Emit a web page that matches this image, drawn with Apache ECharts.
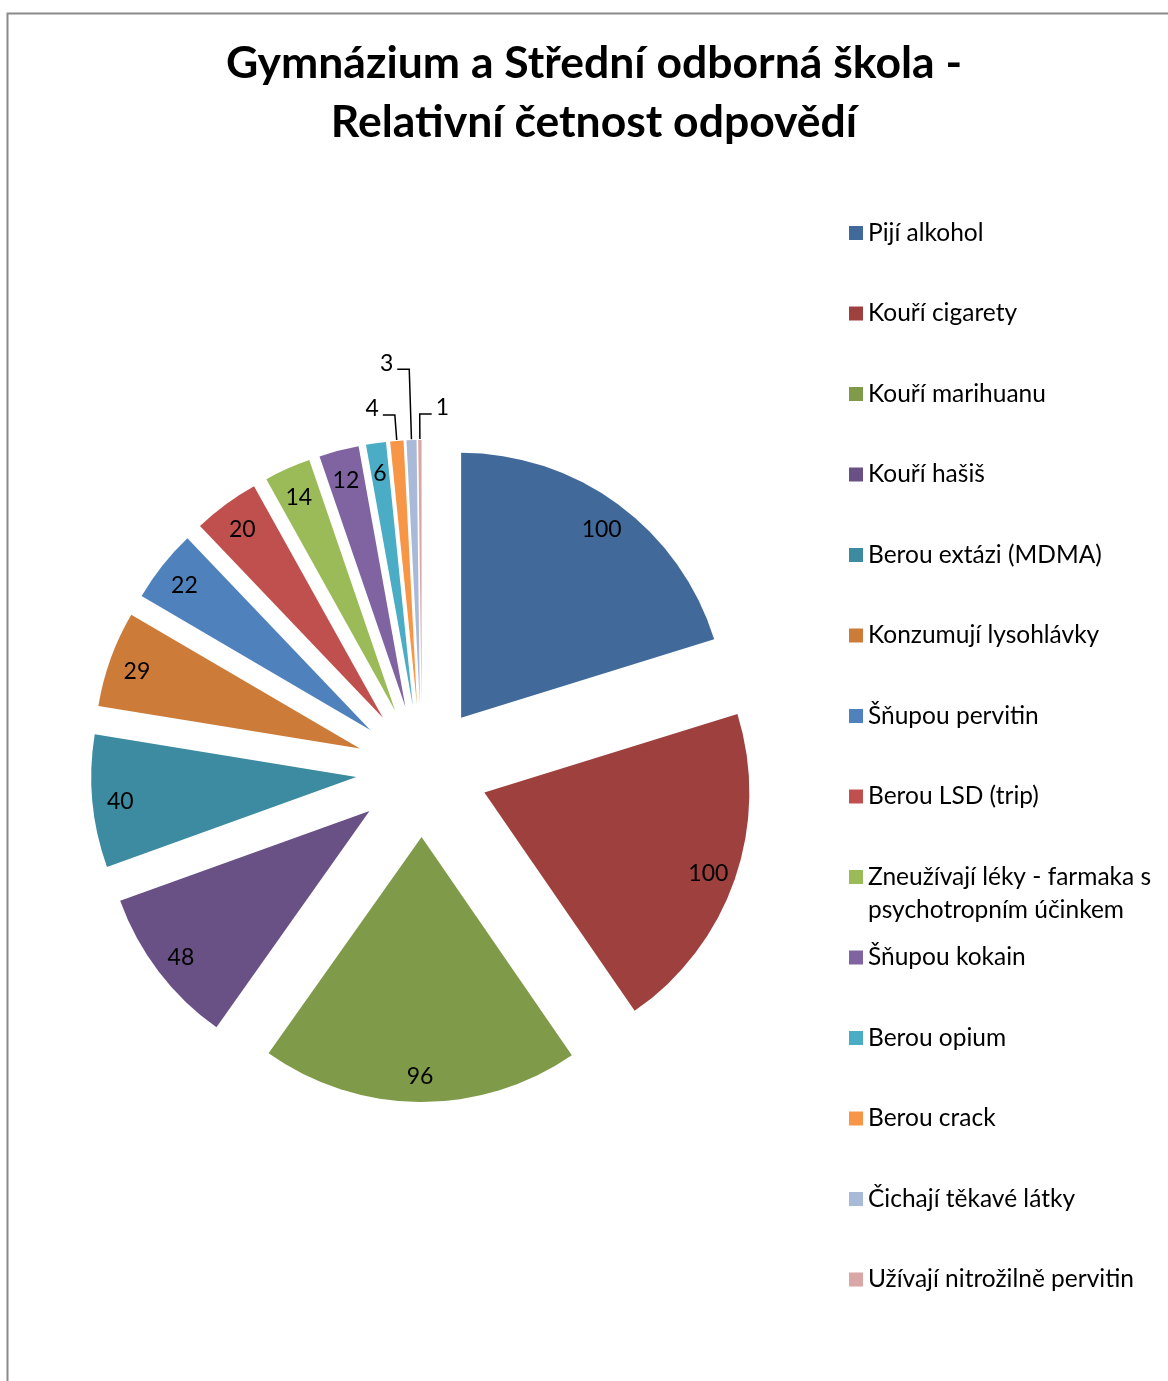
<!DOCTYPE html>
<html>
<head>
<meta charset="utf-8">
<script src="https://cdn.jsdelivr.net/npm/echarts@6/dist/echarts.min.js"></script>
<style>
  html, body { margin: 0; padding: 0; background: #ffffff; }
  #chart { width: 1168px; height: 1381px; }
</style>
</head>
<body>
<div id="chart"></div>
<script>
// Survey answers: how many respondents reported each behaviour
const categories = [
  'Pijí alkohol',
  'Kouří cigarety',
  'Kouří marihuanu',
  'Kouří hašiš',
  'Berou extázi (MDMA)',
  'Konzumují lysohlávky',
  'Šňupou pervitin',
  'Berou LSD (trip)',
  'Zneužívají léky - farmaka s psychotropním účinkem',
  'Šňupou kokain',
  'Berou opium',
  'Berou crack',
  'Čichají těkavé látky',
  'Užívají nitrožilně pervitin'
];
const counts = [100, 100, 96, 48, 40, 29, 22, 20, 14, 12, 6, 4, 3, 1];
const sliceColors = [
  '#416A9B', '#9E413E', '#7F9A48', '#695185', '#3C8BA1', '#CC7B38', '#4F81BD',
  '#C0504D', '#9BBB59', '#8064A2', '#4BACC6', '#F79646', '#A9B9D8', '#D9A7A6'
];
const titleLines = ['Gymnázium a Střední odborná škola -', 'Relativní četnost odpovědí'];

const FONT = 'Lato, "Noto Sans", sans-serif';
const CENTER = [422, 771];
const RADIUS = 265;
const EXPLODE = 66;          // every slice is pulled out by the same distance
const LABEL_DEPTH = 234;     // value labels sit this far out from a slice's tip
// Thin slices get their value outside on a leader line (first segment length)
const leaderLength = { 11: 25, 12: 70, 13: 25 };
const flipIndex = categories.length - 1;   // the last leader turns right

const chart = echarts.init(document.getElementById('chart'), null, { renderer: 'canvas' });

const sliceData = categories.map((name, i) => ({
  name,
  value: counts[i],
  selected: true,
  itemStyle: { color: sliceColors[i] }
}));

const ringMid = EXPLODE + LABEL_DEPTH;
const labelData = categories.map((name, i) => {
  const item = { name, value: counts[i] };
  if (leaderLength[i] != null) {
    item.label = { position: 'outside' };
    item.labelLine = {
      show: true,
      length: leaderLength[i],
      length2: 12,
      lineStyle: { color: '#000000', width: 1.5 }
    };
  }
  return item;
});

// Wrap long legend names and pad every entry to the same three-line box,
// so that the first text line always sits beside its swatch
function legendText(name) {
  const limit = 30;
  let lines = [name];
  if (name.length > limit) {
    const cut = name.lastIndexOf(' ', limit);
    lines = [name.slice(0, cut), name.slice(cut + 1)];
  }
  if (lines.length === 1) lines.push(' ');
  return ' \n' + lines.join('\n');
}

const option = {
  animation: false,
  backgroundColor: '#ffffff',
  color: sliceColors,
  title: {
    text: titleLines.join('\n'),
    left: 594,
    top: 34,
    padding: 0,
    textAlign: 'center',
    textStyle: {
      fontFamily: FONT,
      fontWeight: 'bold',
      fontSize: 44.5,
      lineHeight: 59,
      color: '#000000'
    }
  },
  legend: {
    orient: 'vertical',
    left: 849,
    top: 183.5,
    padding: 0,
    itemWidth: 14,
    itemHeight: 14,
    itemGap: -18.5,
    icon: 'rect',
    selectedMode: false,
    data: categories,
    formatter: legendText,
    textStyle: {
      fontFamily: FONT,
      fontSize: 24.5,
      lineHeight: 33,
      color: '#000000'
    }
  },
  graphic: [{
    type: 'rect',
    silent: true,
    shape: { x: 7.5, y: 13.5, width: 1400, height: 1500 },
    style: { fill: 'none', stroke: '#8a8a8a', lineWidth: 2 }
  }],
  series: [
    {
      type: 'pie',
      center: CENTER,
      radius: RADIUS,
      startAngle: 90,
      clockwise: true,
      selectedMode: 'multiple',
      selectedOffset: EXPLODE,
      avoidLabelOverlap: false,
      label: { show: false },
      labelLine: { show: false },
      emphasis: { scale: false, disabled: true },
      itemStyle: { borderWidth: 0 },
      data: sliceData
    },
    {
      // Transparent ring that only carries the value labels
      type: 'pie',
      silent: true,
      center: CENTER,
      radius: [ringMid - 32, ringMid + 32],
      startAngle: 90,
      clockwise: true,
      avoidLabelOverlap: false,
      itemStyle: { color: 'rgba(0,0,0,0)', borderWidth: 0 },
      emphasis: { disabled: true },
      label: {
        show: true,
        position: 'inside',
        formatter: '{c}',
        fontFamily: FONT,
        fontSize: 23,
        color: '#000000'
      },
      labelLine: { show: false },
      labelLayout: function (p) {
        const pts = p.labelLinePoints;
        if (!pts || pts.length < 3) {
          // inside labels: nudge slightly down onto the optical centre
          return { y: p.labelRect.y + p.labelRect.height / 2 + 3 };
        }
        const a = pts[0], b = pts[1], c = pts[2];
        const run = Math.abs(c[0] - b[0]);
        const dir = p.dataIndex === flipIndex ? 1 : (c[0] >= b[0] ? 1 : -1);
        const end = [b[0] + dir * run, b[1]];
        return {
          x: end[0] + dir * 4,
          y: end[1] - 6,
          align: dir > 0 ? 'left' : 'right',
          verticalAlign: 'middle',
          labelLinePoints: [a, b, end]
        };
      },
      data: labelData
    }
  ]
};

chart.setOption(option);
</script>
</body>
</html>
